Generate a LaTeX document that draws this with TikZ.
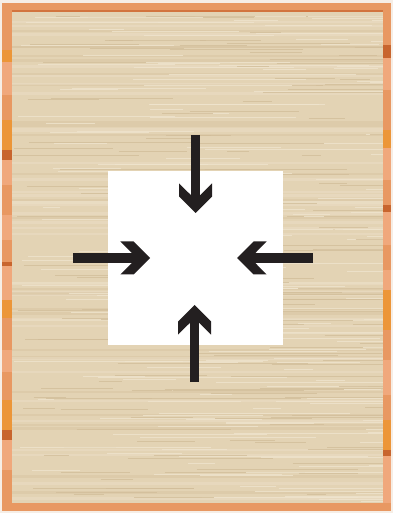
\documentclass[tikz,border=0pt]{standalone}
\usepackage{tikz}
\usetikzlibrary{arrows.meta,positioning}
\definecolor{paper}{HTML}{F6EEE6}
\definecolor{frameorange}{HTML}{E89862}
\definecolor{framelight}{HTML}{F0A87C}
\definecolor{framedark}{HTML}{C8652E}
\definecolor{frameamber}{HTML}{EC9638}
\definecolor{woodbase}{HTML}{E3D3B4}
\definecolor{woodlight}{HTML}{EFE4CE}
\definecolor{wooddark}{HTML}{D2BE9A}
\definecolor{inkblack}{HTML}{231F20}

\begin{document}
\begin{tikzpicture}[
        x=0.01cm, y=-0.01cm,
        pad/.style={
          fill=white,
          inner sep=0pt,
          minimum width=1.75cm,
          minimum height=1.74cm
        },
        push/.style={line width=0.093cm, draw=inkblack, shorten >=0.15cm},
        grain/.style={line width=0.006cm},
        head/.pic={
          \fill[inkblack] (0,0) -- (-16.5,16.5) -- (-29.7,16.5) -- (-17.9,4.65)
            -- (-17.9,-4.65) -- (-29.7,-16.5) -- (-16.5,-16.5) -- cycle;
        }
      ]
        \useasboundingbox (0,0) rectangle (393,513);
        \fill[paper] (0,0) rectangle (393,513);

        % frame
        \fill[frameorange] (2,3) rectangle (391,511);
        \fill[framedark!70!frameorange] (12,10) rectangle (383,12);
        \foreach \ya/\yb/\c in {12/50/frameorange, 50/62/frameamber, 62/95/framelight,
            95/120/frameorange, 120/150/frameamber, 150/160/framedark, 160/185/framelight,
            185/215/frameorange, 215/240/framelight, 240/262/frameorange, 262/266/framedark,
            266/300/framelight, 300/318/frameamber, 318/350/frameorange, 350/372/framelight,
            372/400/frameorange, 400/430/frameamber, 430/440/framedark, 440/470/framelight,
            470/503/frameorange}
          \fill[\c] (2,\ya) rectangle (12,\yb);
        \foreach \ya/\yb/\c in {12/45/frameorange, 45/58/framedark, 58/90/framelight,
            90/130/frameorange, 130/148/frameamber, 148/180/framelight, 180/205/frameorange,
            205/212/framedark, 212/245/framelight, 245/270/frameorange, 270/290/framelight,
            290/330/frameamber, 330/360/frameorange, 360/395/framelight, 395/420/frameorange,
            420/450/frameamber, 450/456/framedark, 456/503/framelight}
          \fill[\c] (383,\ya) rectangle (391,\yb);

        % wood
        \fill[woodbase] (12,12) rectangle (383,503);
        \pgfmathsetseed{42}
        \foreach \k in {1,...,60}{
          \pgfmathsetmacro{\yy}{14+487*rnd}
          \pgfmathsetmacro{\shade}{rnd}
          \ifdim\shade pt<0.5pt \def\sc{woodlight}\else\def\sc{wooddark}\fi
          \draw[\sc, opacity=0.35, line width=0.025cm] (12,\yy) -- (383,\yy);
        }
        \foreach \k in {1,...,320}{
          \pgfmathsetmacro{\yy}{13+489*rnd}
          \pgfmathsetmacro{\xa}{12+360*rnd}
          \pgfmathsetmacro{\xb}{min(383,\xa+15+180*rnd)}
          \pgfmathsetmacro{\shade}{rnd}
          \ifdim\shade pt<0.55pt \def\sc{woodlight}\else\def\sc{wooddark}\fi
          \draw[\sc, grain, opacity=0.8] (\xa,\yy) -- (\xb,\yy);
        }

        \node[pad] (pad) at (195.5,258) {};

        % arrows pressing in
        \coordinate (nstart) at (195.5,135);
        \coordinate (ntip) at (195.5,213);
        \coordinate (sstart) at (194.5,382);
        \coordinate (stip) at (194.5,305);
        \coordinate (wstart) at (73,258);
        \coordinate (wtip) at (150,258);
        \coordinate (estart) at (313,258);
        \coordinate (etip) at (237,258);

        \draw[push] (nstart) -- (ntip);
        \draw[push] (sstart) -- (stip);
        \draw[push] (wstart) -- (wtip);
        \draw[push] (estart) -- (etip);
        \pic[rotate=-90] at (ntip) {head};
        \pic[rotate=90] at (stip) {head};
        \pic at (wtip) {head};
        \pic[rotate=180] at (etip) {head};
      \end{tikzpicture}
\end{document}
